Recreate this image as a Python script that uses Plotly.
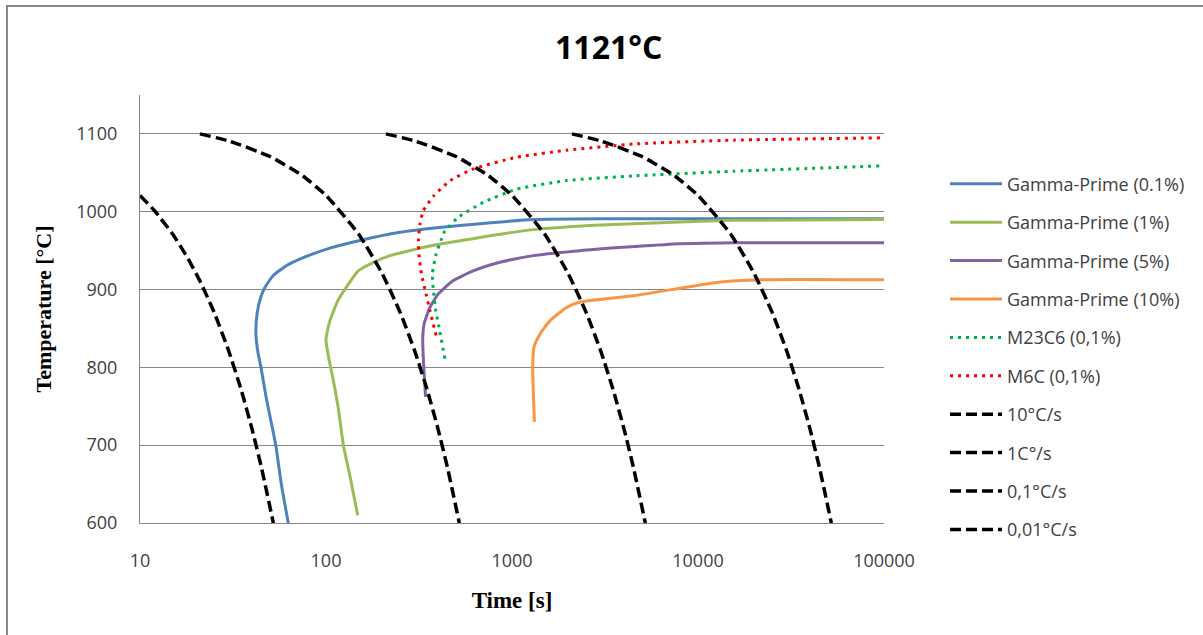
import plotly.graph_objects as go

# ---------------- data ----------------
gp01_t = [62.7, 57.5, 53.7, 47.8, 44.7, 43.0, 42.0, 42.6, 44.6, 47.0, 52.1, 61.5, 75.5, 101, 152, 250, 420, 700, 1300, 3000, 10000, 100000]
gp01_T = [600, 650, 700, 760, 800, 820, 843, 869, 890, 903, 918, 931, 941, 952, 963, 973.5, 980, 985, 990, 991, 991, 991]

gp1_t = [148, 136, 124, 116, 106, 104, 100, 101, 105, 116, 132, 149, 180, 221, 362, 673, 1300, 3000, 6800, 15500, 100000]
gp1_T = [610, 655, 700, 750, 800, 809, 835, 843, 860, 886, 907, 924, 935, 943.6, 956, 967, 977, 983, 986, 989, 990]

gp5_t = [343, 337, 331, 337, 362, 402, 483, 619, 861, 1303, 2323, 6800, 15500, 100000]
gp5_T = [762, 792, 835, 856, 877, 894.5, 911.5, 924, 935, 943.6, 950, 958, 960, 960]

gp10_t = [1320, 1292, 1313, 1415, 1601, 1967, 2323, 4490, 12600, 21500, 100000]
gp10_T = [730, 800, 826, 843, 860, 877, 884, 892, 909, 912.5, 912.5]

m23_t = [436, 405, 389, 378, 373, 389, 415, 435, 515, 701, 1059, 1967, 4490, 15500, 100000]
m23_T = [811, 851.7, 873, 898.7, 920, 943.6, 963, 975, 993, 1012, 1029, 1040, 1046, 1052, 1059]

m6_t = [391, 362, 345, 326, 316, 314, 320, 333, 378, 465, 620, 1059, 1967, 4490, 15500, 100000]
m6_T = [841, 873, 894.5, 920, 945, 963, 984, 1001, 1020, 1040, 1055, 1070, 1079, 1087, 1092, 1095]

c10_t = [10, 12, 15, 18, 21, 25, 30, 35, 40, 45, 52.1]
c10_T = [1021, 1001, 971, 941, 911, 871, 821, 771, 721, 671, 600]

c1_t = [21, 30, 50, 75, 100, 150, 200, 250, 300, 350, 400, 450, 521]
c1_T = [1100, 1091, 1071, 1046, 1021, 971, 921, 871, 821, 771, 721, 671, 600]

c01_t = [210, 300, 500, 750, 1000, 1500, 2000, 2500, 3000, 3500, 4000, 4500, 5210]
c01_T = [1100, 1091, 1071, 1046, 1021, 971, 921, 871, 821, 771, 721, 671, 600]

c001_t = [2100, 3000, 5000, 7500, 10000, 15000, 20000, 25000, 30000, 35000, 40000, 45000, 52100]
c001_T = [1100, 1091, 1071, 1046, 1021, 971, 921, 871, 821, 771, 721, 671, 600]

x_ticks = [10, 100, 1000, 10000, 100000]
x_ticklabels = ["10", "100", "1000", "10000", "100000"]

series = [
    ("Gamma-Prime (0.1%)", gp01_t, gp01_T, "#4F81BD", "solid", 3),
    ("Gamma-Prime (1%)", gp1_t, gp1_T, "#9BBB59", "solid", 3),
    ("Gamma-Prime (5%)", gp5_t, gp5_T, "#8064A2", "solid", 3),
    ("Gamma-Prime (10%)", gp10_t, gp10_T, "#F79646", "solid", 3),
    ("M23C6 (0,1%)", m23_t, m23_T, "#00B050", "3px,5px", 3),
    ("M6C (0,1%)", m6_t, m6_T, "#FF0000", "3px,5px", 3),
    ("10°C/s", c10_t, c10_T, "#000000", "11px,5px", 3.5),
    ("1C°/s", c1_t, c1_T, "#000000", "11px,5px", 3.5),
    ("0,1°C/s", c01_t, c01_T, "#000000", "11px,5px", 3.5),
    ("0,01°C/s", c001_t, c001_T, "#000000", "11px,5px", 3.5),
]

FONT = "Open Sans"
fig = go.Figure()
for i, (name, t, T, col, dash, w) in enumerate(series):
    fig.add_trace(go.Scatter(
        x=t, y=T, mode="lines", name=name, legendgroup=f"g{i}",
        line=dict(color=col, dash=dash, width=w, shape="spline", smoothing=0.5),
    ))

fig.update_layout(
    width=1203, height=635,
    margin=dict(l=140, r=319, t=95, b=112),
    paper_bgcolor="white", plot_bgcolor="white",
    font=dict(family=FONT, size=18, color="#404040"),
    title=dict(text="<b>1121°C</b>", x=0.506, xanchor="center", y=0.924, yanchor="middle",
               font=dict(family=FONT, size=32, color="#000000")),
    xaxis=dict(type="log", range=[1, 5], tickvals=x_ticks, ticktext=x_ticklabels,
               showgrid=False, showline=True, linecolor="#868686", linewidth=1,
               ticks="", ticklabelstandoff=21, zeroline=False,
               title=dict(text="<b>Time [s]</b>", standoff=21,
                          font=dict(family="Liberation Serif", size=23, color="#000000"))),
    yaxis=dict(range=[600, 1150], dtick=100, tick0=600,
               showgrid=True, gridcolor="#868686", gridwidth=1,
               showline=True, linecolor="#868686", linewidth=1,
               ticks="", ticklabelstandoff=18, zeroline=False,
               title=dict(text="<b>Temperature [°C]</b>", standoff=18,
                          font=dict(family="Liberation Serif", size=22, color="#000000"))),
    legend=dict(x=1.082, xanchor="left", y=0.835, yanchor="top", itemwidth=52,
                tracegroupgap=12, font=dict(family=FONT, size=18, color="#404040"),
                bgcolor="rgba(0,0,0,0)"),
    showlegend=True,
)

# outer chart frame (top and left edges visible in the reference)
fig.add_shape(type="rect", xref="paper", yref="paper",
              x0=-0.1788, x1=1.6, y0=-1.0, y1=1.208,
              line=dict(color="#878787", width=2), layer="below")

fig.write_html("out.html")
